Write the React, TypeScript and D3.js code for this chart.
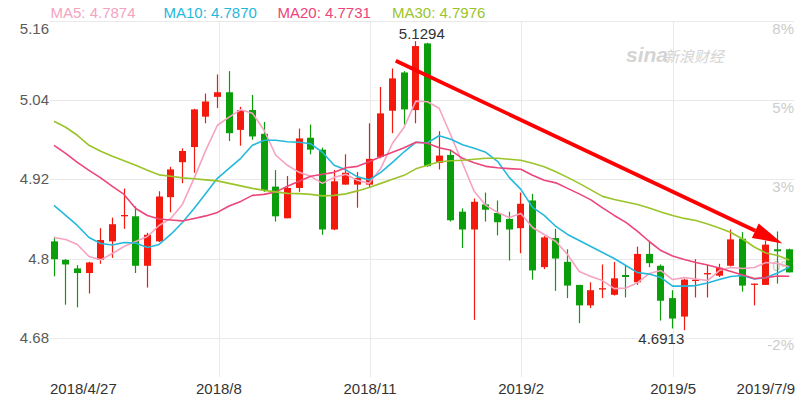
import React from 'react';
import * as d3 from 'd3';

const W = 808;
const H = 397;

// Weekly candles (index 0 = 2018/4/27)
const opens = [4.826, 4.798, 4.785, 4.778, 4.798, 4.826, 4.864, 4.864, 4.789, 4.826, 4.893, 4.946, 4.969, 5.015, 5.045, 5.052, 4.995, 5.025, 4.989, 4.909, 4.861, 4.907, 4.983, 4.965, 4.844, 4.912, 4.912, 4.912, 4.954, 5.024, 5.082, 5.025, 5.126, 4.945, 4.957, 4.871, 4.844, 4.882, 4.869, 4.860, 4.846, 4.888, 4.787, 4.831, 4.795, 4.760, 4.729, 4.753, 4.745, 4.775, 4.764, 4.807, 4.789, 4.740, 4.712, 4.766, 4.776, 4.774, 4.789, 4.830, 4.760, 4.760, 4.814, 4.814];
const highs = [4.833, 4.799, 4.790, 4.795, 4.846, 4.862, 4.906, 4.879, 4.839, 4.902, 4.939, 4.967, 5.027, 5.050, 5.079, 5.084, 5.030, 5.048, 5.007, 4.934, 4.925, 4.997, 5.003, 4.968, 4.934, 4.958, 4.931, 5.005, 5.060, 5.088, 5.084, 5.1294, 5.127, 4.993, 4.965, 4.876, 4.891, 4.900, 4.888, 4.871, 4.900, 4.898, 4.834, 4.845, 4.814, 4.760, 4.764, 4.791, 4.795, 4.790, 4.818, 4.827, 4.791, 4.752, 4.769, 4.799, 4.790, 4.792, 4.844, 4.840, 4.762, 4.827, 4.841, 4.815];
const lows = [4.773, 4.730, 4.726, 4.747, 4.792, 4.801, 4.845, 4.778, 4.756, 4.825, 4.870, 4.914, 4.930, 5.005, 5.028, 4.978, 4.971, 4.980, 4.901, 4.856, 4.861, 4.901, 4.958, 4.836, 4.843, 4.912, 4.877, 4.908, 4.952, 4.990, 5.003, 5.005, 4.939, 4.935, 4.856, 4.816, 4.707, 4.856, 4.835, 4.797, 4.808, 4.768, 4.784, 4.751, 4.740, 4.702, 4.725, 4.740, 4.744, 4.741, 4.760, 4.787, 4.706, 4.694, 4.6913, 4.741, 4.741, 4.772, 4.788, 4.750, 4.729, 4.760, 4.762, 4.779];
const closes = [4.799, 4.791, 4.778, 4.794, 4.828, 4.852, 4.866, 4.789, 4.836, 4.894, 4.935, 4.963, 5.026, 5.038, 5.052, 4.990, 5.025, 4.985, 4.904, 4.864, 4.907, 4.982, 4.965, 4.844, 4.917, 4.930, 4.922, 4.951, 5.020, 5.073, 5.026, 5.122, 4.940, 4.956, 4.858, 4.844, 4.886, 4.874, 4.855, 4.844, 4.883, 4.782, 4.832, 4.800, 4.759, 4.729, 4.752, 4.755, 4.770, 4.772, 4.807, 4.793, 4.736, 4.709, 4.768, 4.768, 4.778, 4.786, 4.829, 4.759, 4.762, 4.821, 4.811, 4.779];

// Moving averages
const ma5 = [4.8319, 4.8289, 4.8213, 4.803, 4.798, 4.8076, 4.8182, 4.8258, 4.8334, 4.8501, 4.8608, 4.882, 4.9215, 4.964, 5.002, 5.0142, 5.0256, 5.0203, 4.9944, 4.9565, 4.9413, 4.9306, 4.9246, 4.9139, 4.923, 4.9276, 4.9185, 4.9139, 4.9367, 4.9747, 4.999, 5.0385, 5.0377, 5.0278, 4.9868, 4.9443, 4.9018, 4.8805, 4.8699, 4.8623, 4.8684, 4.8471, 4.8365, 4.8258, 4.8061, 4.7803, 4.7727, 4.7666, 4.7544, 4.7552, 4.7635, 4.7772, 4.7818, 4.7681, 4.7711, 4.7689, 4.7666, 4.7818, 4.7863, 4.7848, 4.7863, 4.7939, 4.7924, 4.7874];
const ma10 = [4.8805, 4.8653, 4.8501, 4.8319, 4.8228, 4.8205, 4.8243, 4.8235, 4.8167, 4.8213, 4.8365, 4.8547, 4.8759, 4.8987, 4.9215, 4.9367, 4.9519, 4.9716, 4.9792, 4.9792, 4.977, 4.9762, 4.9739, 4.961, 4.9413, 4.9344, 4.9238, 4.9192, 4.9306, 4.9458, 4.9618, 4.9762, 4.9754, 4.9861, 4.9808, 4.9724, 4.9671, 4.961, 4.9473, 4.923, 4.9048, 4.8775, 4.8653, 4.8486, 4.8365, 4.8273, 4.8182, 4.8091, 4.8, 4.7894, 4.7787, 4.7764, 4.7711, 4.7582, 4.7582, 4.759, 4.7628, 4.7681, 4.7727, 4.7742, 4.7689, 4.7711, 4.778, 4.787];
const ma20 = [4.9716, 4.9595, 4.9458, 4.9337, 4.9223, 4.9094, 4.8972, 4.8759, 4.8653, 4.86, 4.8585, 4.857, 4.8608, 4.8646, 4.8699, 4.8797, 4.8866, 4.8957, 4.8972, 4.901, 4.9094, 4.917, 4.9246, 4.9276, 4.9306, 4.9375, 4.9397, 4.9466, 4.9542, 4.961, 4.9678, 4.9762, 4.9747, 4.9678, 4.964, 4.9519, 4.9451, 4.9397, 4.9375, 4.9363, 4.9352, 4.9261, 4.9185, 4.9147, 4.9063, 4.898, 4.8889, 4.8767, 4.8653, 4.8547, 4.841, 4.8258, 4.8121, 4.8038, 4.7985, 4.7939, 4.7901, 4.7856, 4.7803, 4.7749, 4.7696, 4.7711, 4.7734, 4.7731];
const ma30 = [5.0081, 4.999, 4.9868, 4.9716, 4.9625, 4.9549, 4.9481, 4.9413, 4.9337, 4.9268, 4.9246, 4.9223, 4.9208, 4.9192, 4.9177, 4.9139, 4.9101, 4.9063, 4.9033, 4.901, 4.8987, 4.8983, 4.8972, 4.8949, 4.8957, 4.898, 4.9025, 4.9078, 4.9139, 4.92, 4.9261, 4.9359, 4.9413, 4.9466, 4.9481, 4.9489, 4.9504, 4.9519, 4.9519, 4.9504, 4.9489, 4.9443, 4.939, 4.9314, 4.923, 4.9139, 4.904, 4.8942, 4.8896, 4.8858, 4.882, 4.8767, 4.8706, 4.8653, 4.8608, 4.8577, 4.8524, 4.8463, 4.8395, 4.8296, 4.8175, 4.8084, 4.8046, 4.7976];

const maNames = ['MA5', 'MA10', 'MA20', 'MA30'];
const maColors = ['#F6A3C1', '#25B8DD', '#EC4579', '#9BC42A'];

const yTicks = [4.68, 4.8, 4.92, 5.04, 5.16];
const yTickLabels = ['4.68', '4.8', '4.92', '5.04', '5.16'];
const pctLabels = ['-2%', '0%', '3%', '5%', '8%'];

const xTickIdx = [14.13, 27.08, 40.02, 53.05];
const xTickLabels = ['2018/8', '2018/11', '2019/2', '2019/5'];
const firstDateLabel = '2018/4/27';
const lastDateLabel = '2019/7/9';

const maxLabel = '5.1294';
const minLabel = '4.6913';

// annotation arrow (index, value)
const arrowStart = [29.28, 5.0997];
const arrowEnd = [62.41, 4.8228];

const UP = '#F3190D';
const DOWN = '#0B9E0B';
const FONT = '"Liberation Sans", Arial, sans-serif';

export default function App() {
  const plotL = 50, plotR = 794, plotT = 21, plotB = 377;
  const x = d3.scaleLinear().domain([0, closes.length - 1]).range([54, 789.3]);
  const y = d3.scaleLinear().domain([4.68, 5.16]).range([337.7, 21]);
  const mas = [ma5, ma10, ma20, ma30];
  const line = d3.line<number>().x((_, i) => x(i)).y((d) => y(d)).curve(d3.curveLinear);

  const ax = x(arrowStart[0]), ay = y(arrowStart[1]);
  const bx = x(arrowEnd[0]), by = y(arrowEnd[1]);
  const len = Math.hypot(bx - ax, by - ay);
  const ux = (bx - ax) / len, uy = (by - ay) / len;
  const hl = 30, hw = 8;
  const cx = bx - ux * hl, cy = by - uy * hl;
  const head = `M${bx},${by}L${cx - uy * hw},${cy + ux * hw}L${cx + uy * hw},${cy - ux * hw}Z`;

  const minIdx = lows.indexOf(d3.min(lows) as number);
  const maxIdx = highs.indexOf(d3.max(highs) as number);

  return (
    <svg width={W} height={H} style={{ position: 'absolute', left: 0, top: 0, display: 'block', background: '#fff' }} fontFamily={FONT}>
      {/* grid */}
      {yTicks.map((t, i) => (
        <line key={'gy' + i} x1={plotL} x2={plotR} y1={Math.round(y(t)) + 0.5} y2={Math.round(y(t)) + 0.5} stroke="#E9E9E9" strokeWidth={1} />
      ))}
      {xTickIdx.map((t, i) => (
        <line key={'gx' + i} x1={Math.round(x(t)) + 0.5} x2={Math.round(x(t)) + 0.5} y1={plotT} y2={plotB} stroke="#E9E9E9" strokeWidth={1} />
      ))}

      {/* watermark */}
      <text x={626} y={62} fontSize={21} fontWeight="bold" fontStyle="italic" fill="#D4D4D4" fontFamily={FONT}>sina</text>
      <text x={664} y={62} fontSize={15} fontStyle="italic" fill="#D4D4D4" fontFamily='"Noto Sans CJK SC", sans-serif'>新浪财经</text>

      {/* left axis labels */}
      {yTicks.map((t, i) => {
        const yy = y(t);
        const b = yy < 30 ? yy + 13 : yy + 5;
        return (
          <text key={'ly' + i} x={49} y={b} textAnchor="end" fontSize={15} fill="#5A5A5A">{yTickLabels[i]}</text>
        );
      })}
      {/* right axis labels */}
      {yTicks.map((t, i) => (
        <text key={'ry' + i} x={794} y={y(t) + 12.5} textAnchor="end" fontSize={15} fill="#CCCCCC">{pctLabels[i]}</text>
      ))}

      {/* x labels */}
      <text x={plotL} y={394} fontSize={15} fill="#333">{firstDateLabel}</text>
      {xTickIdx.map((t, i) => (
        <text key={'lx' + i} x={x(t)} y={394} textAnchor="middle" fontSize={15} fill="#333">{xTickLabels[i]}</text>
      ))}
      <text x={795} y={394} textAnchor="end" fontSize={15} fill="#333">{lastDateLabel}</text>

      {/* candles */}
      {closes.map((c, i) => {
        const o = opens[i];
        const up = c >= o;
        const col = up ? UP : DOWN;
        const left = Math.round(x(i) - 3.5);
        const top = y(Math.max(o, c));
        const h = Math.max(1.2, Math.abs(y(o) - y(c)));
        return (
          <g key={'c' + i}>
            <line x1={left + 3.5} x2={left + 3.5} y1={y(highs[i])} y2={y(lows[i])} stroke={col} strokeWidth={1.2} />
            <rect x={left} y={top} width={7} height={h} fill={col} />
          </g>
        );
      })}

      {/* MA lines */}
      {mas.map((m, k) => (
        <path key={'ma' + k} d={line(m) || ''} fill="none" stroke={maColors[k]} strokeWidth={1.6} strokeLinejoin="round" />
      ))}

      {/* extreme labels */}
      <text x={x(maxIdx) + 6} y={38.5} textAnchor="middle" fontSize={15} fill="#333">{maxLabel}</text>
      <text x={x(minIdx)} y={344} textAnchor="end" fontSize={15} fill="#333">{minLabel}</text>

      {/* arrow annotation */}
      <line x1={ax} y1={ay} x2={cx} y2={cy} stroke="#FF0000" strokeWidth={3.8} />
      <path d={head} fill="#FF0000" />

      {/* legend */}
      {maNames.map((n, k) => {
        const lx = [50.5, 163.5, 277.5, 392][k];
        const arr = mas[k];
        return (
          <text key={'lg' + k} x={lx} y={18} fontSize={15} fill={maColors[k]}>
            {`${n}: ${arr[arr.length - 1].toFixed(4)}`}
          </text>
        );
      })}
    </svg>
  );
}
